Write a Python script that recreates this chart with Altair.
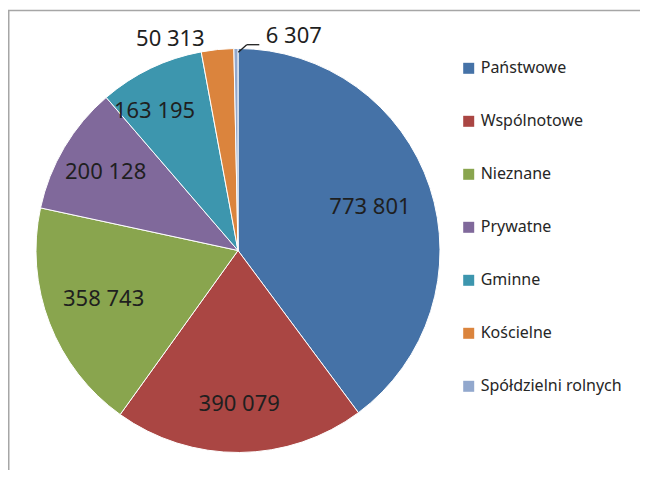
import altair as alt
import pandas as pd

categories = ["Państwowe", "Wspólnotowe", "Nieznane", "Prywatne", "Gminne", "Kościelne", "Spółdzielni rolnych"]
values = [773801, 390079, 358743, 200128, 163195, 50313, 6307]
value_labels = ["773 801", "390 079", "358 743", "200 128", "163 195", "50 313", "6 307"]
colors = ["#4572A7", "#AA4643", "#89A54E", "#80699B", "#3D96AE", "#DB843D", "#92A8CD"]

df = pd.DataFrame({
    "category": categories,
    "value": values,
    "label": value_labels,
    "order": list(range(len(categories))),
})

W, H = 632, 462
CX, CY, R = 230, 242.5, 202

base = alt.Chart(df).encode(
    theta=alt.Theta("value:Q", stack=True),
    order=alt.Order("order:Q"),
    x=alt.value(CX),
    y=alt.value(CY),
)

pie = base.mark_arc(radius=R, stroke="white", strokeWidth=1).encode(
    color=alt.Color(
        "category:N",
        scale=alt.Scale(domain=categories, range=colors),
        sort=categories,
        legend=alt.Legend(
            title=None,
            orient="none",
            legendX=452.7,
            legendY=52.3,
            symbolType="square",
            symbolSize=121,
            symbolStrokeWidth=0,
            labelFontSize=16,
            labelFont="Noto Sans",
            labelColor="#262626",
            labelOffset=4,
            rowPadding=37,
            padding=0,
            labelLimit=300,
        ),
    )
)

# label styling per slice: (radius, dx, dy, align)
label_style = {
    "Państwowe": (139, 0, 0, "center"),
    "Wspólnotowe": (154, 0, 0, "center"),
    "Nieznane": (144, 0, -3, "center"),
    "Prywatne": (154, 0, 0, "center"),
    "Gminne": (163, -13, 7, "center"),
    "Kościelne": (213, -46, 0, "center"),
    "Spółdzielni rolnych": (214.5, 30, 0, "left"),
}

layers = [pie]
for cat in categories:
    r, dx, dy, align = label_style[cat]
    layers.append(
        base.mark_text(radius=r, dx=dx, dy=dy, align=align, baseline="middle",
                       font="Noto Sans", fontSize=22, color="#1f1f1f")
        .encode(text="label:N", opacity=alt.condition(alt.datum.category == cat, alt.value(1), alt.value(0)))
    )

# leader line for the smallest slice
leader1 = alt.Chart(df.head(1)).mark_rule(color="#1f1f1f", strokeWidth=1.3).encode(
    x=alt.value(230.3), x2=alt.value(238.7), y=alt.value(44.3), y2=alt.value(36.7))
leader2 = alt.Chart(df.head(1)).mark_rule(color="#1f1f1f", strokeWidth=1.3).encode(
    x=alt.value(238.7), x2=alt.value(251.3), y=alt.value(36.7), y2=alt.value(36.7))

# outer frame
frame_top = alt.Chart(df.head(1)).mark_rule(color="#a6a6a6", strokeWidth=1.5).encode(
    x=alt.value(0), x2=alt.value(W), y=alt.value(2.5), y2=alt.value(2.5))
frame_left = alt.Chart(df.head(1)).mark_rule(color="#a6a6a6", strokeWidth=1.5).encode(
    x=alt.value(0.75), x2=alt.value(0.75), y=alt.value(2.5), y2=alt.value(H))

chart = alt.layer(*layers, leader1, leader2, frame_top, frame_left).properties(
    width=W, height=H, padding=0, autosize=alt.AutoSizeParams(type="none"),
    background="white",
).configure_view(stroke=None)

chart.save("out.html", embed_options={"renderer": "svg", "actions": False})
